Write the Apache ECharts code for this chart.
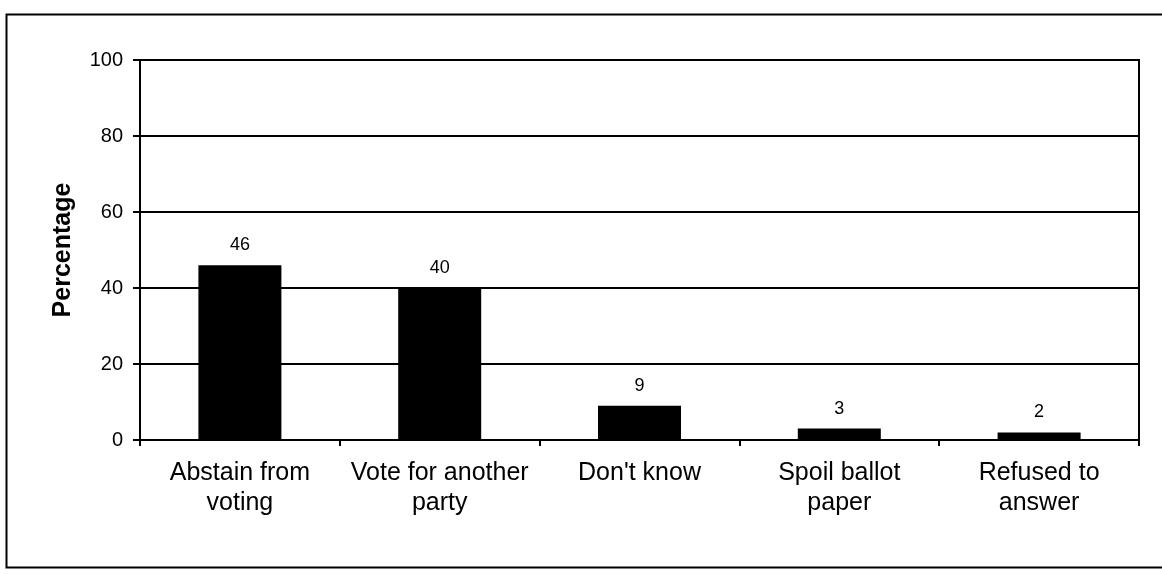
<!DOCTYPE html>
<html>
<head>
<meta charset="utf-8">
<script src="https://cdn.jsdelivr.net/npm/echarts@6/dist/echarts.min.js"></script>
<style>
  html, body { margin: 0; padding: 0; background: #fff; }
  #chart { width: 1162px; height: 574px; }
</style>
</head>
<body>
<div id="chart"></div>
<script>
// Responses: what people would do instead
const categories = [
  'Abstain from\nvoting',
  'Vote for another\nparty',
  "Don't know",
  'Spoil ballot\npaper',
  'Refused to\nanswer'
];
const percentages = [46, 40, 9, 3, 2];
const yTicks = { min: 0, max: 100, interval: 20 };

const chart = echarts.init(document.getElementById('chart'), null, { renderer: 'canvas' });
const font = '"Liberation Sans", Arial, Helvetica, sans-serif';

chart.setOption({
  animation: false,
  backgroundColor: '#ffffff',
  graphic: [{
    type: 'rect',
    left: 4, top: 12,
    shape: { x: 0, y: 0, width: 1170, height: 553 },
    style: { fill: 'none', stroke: '#000', lineWidth: 2 },
    silent: true
  }],
  grid: {
    left: 140, right: 23, top: 60, bottom: 134,
    show: true, borderColor: '#000', borderWidth: 2,
    containLabel: false
  },
  xAxis: {
    type: 'category',
    data: categories,
    axisLine: { lineStyle: { color: '#000', width: 2 } },
    axisTick: { show: true, length: 6, lineStyle: { color: '#000', width: 2 } },
    axisLabel: {
      color: '#000', fontFamily: font, fontSize: 25, lineHeight: 30,
      margin: 18, interval: 0
    }
  },
  yAxis: {
    type: 'value',
    min: yTicks.min, max: yTicks.max, interval: yTicks.interval,
    name: 'Percentage',
    nameLocation: 'middle',
    nameGap: 64,
    nameTextStyle: { color: '#000', fontFamily: font, fontSize: 25, fontWeight: 'bold' },
    axisLine: { show: true, lineStyle: { color: '#000', width: 2 } },
    axisTick: { show: true, length: 7, lineStyle: { color: '#000', width: 2 } },
    axisLabel: { color: '#000', fontFamily: font, fontSize: 20, margin: 17 },
    splitLine: { show: true, lineStyle: { color: '#000', width: 2 } }
  },
  series: [{
    type: 'bar',
    data: percentages,
    barWidth: 83,
    itemStyle: { color: '#000' },
    label: {
      show: true, position: 'top', distance: 11,
      color: '#000', fontFamily: font, fontSize: 18
    }
  }]
});
</script>
</body>
</html>
